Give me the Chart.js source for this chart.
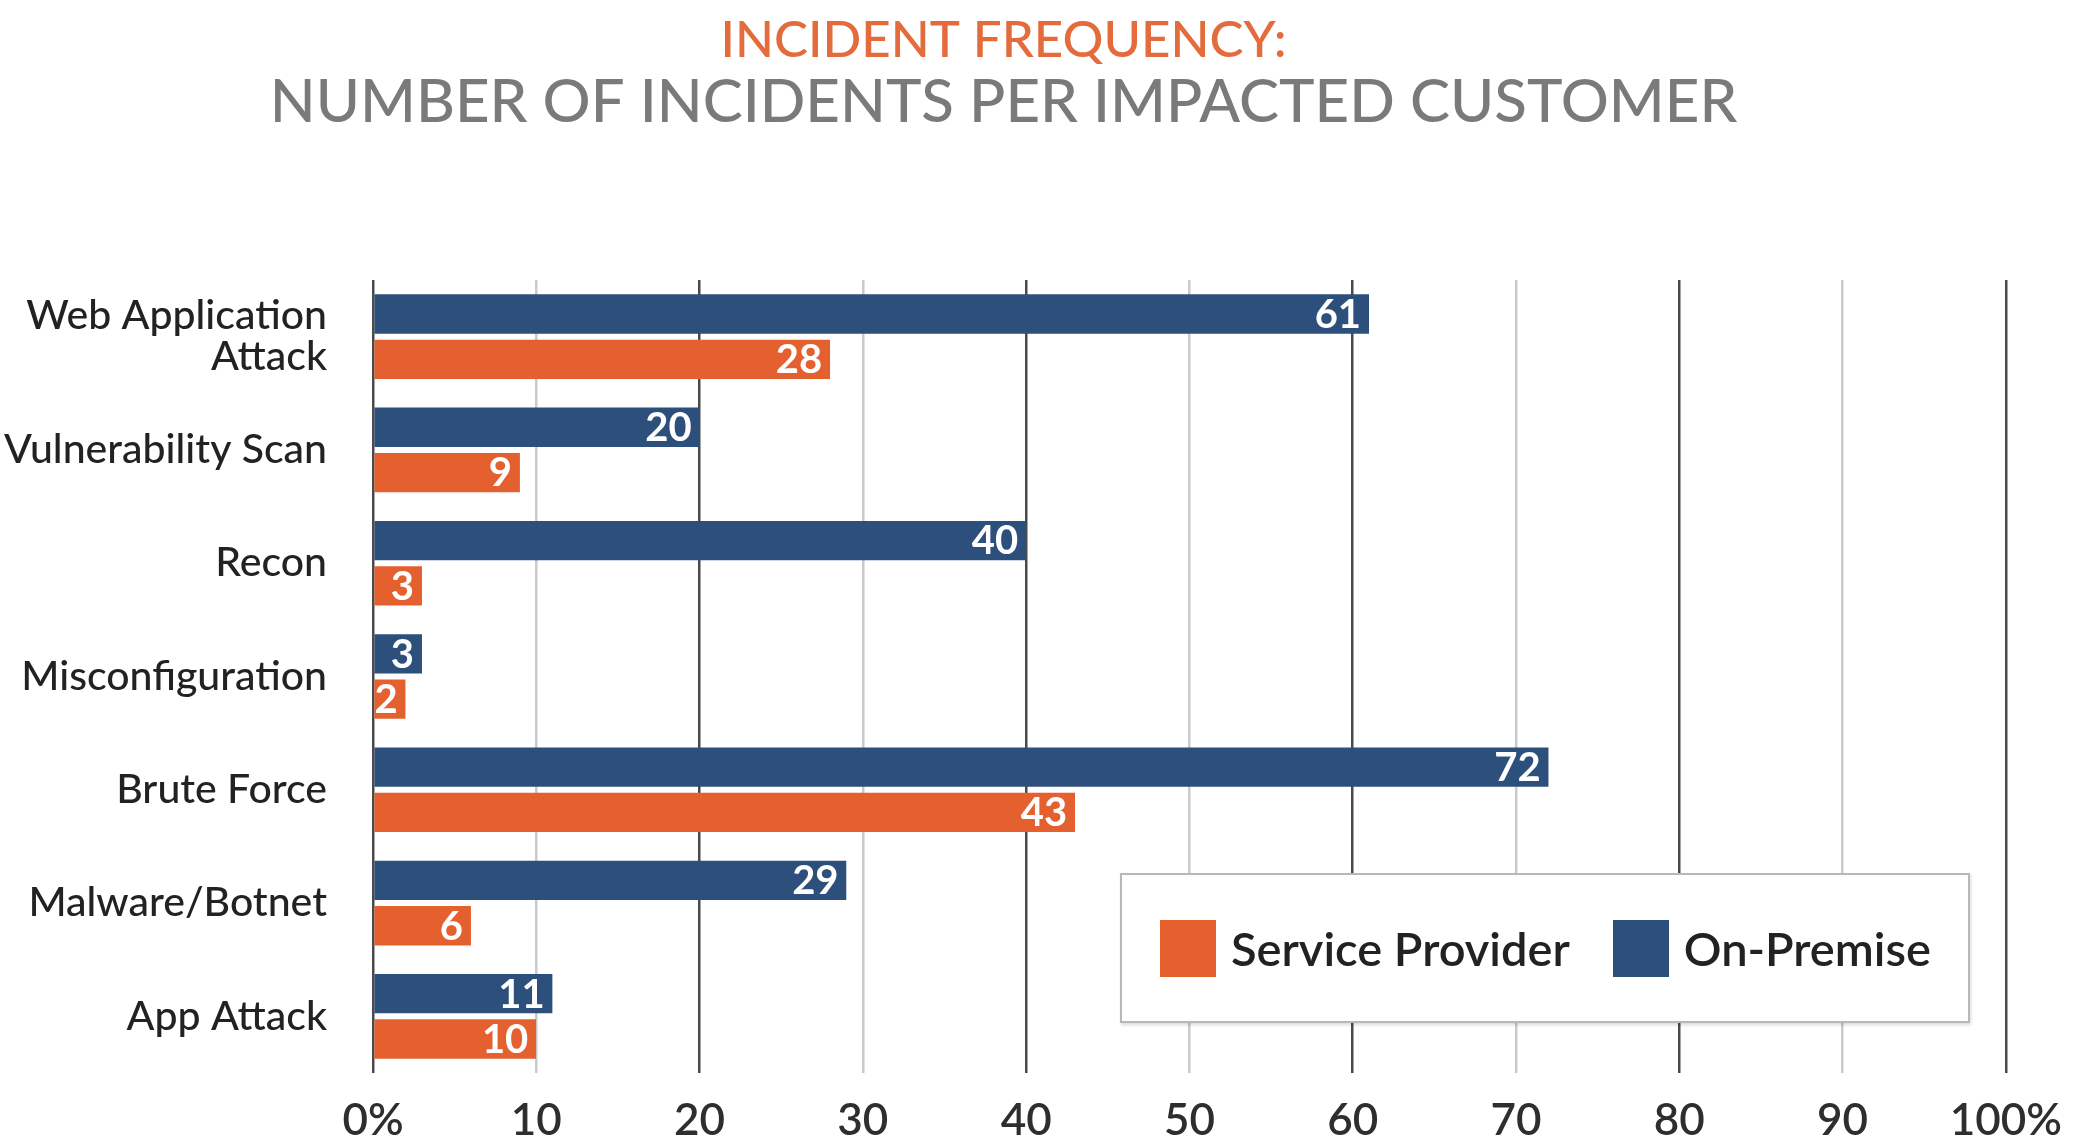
<!DOCTYPE html>
<html lang="en">
  <head>
    <meta charset="UTF-8" />
    <meta name="viewport" content="width=device-width, initial-scale=1.0" />
    <title>Incident Frequency</title>
    <style>
      body { margin: 0; background: #fff; }
      .wrap { position: relative; width: 2083px; height: 1142px; }
      .legend {
        position: absolute; left: 1120px; top: 873px; width: 846px; height: 146px;
        background: #fff; border: 2px solid #b8b8b8; box-shadow: 1px 2px 3px rgba(0,0,0,0.15);
        display: flex; align-items: center; font-family: Lato, sans-serif;
        font-size: 47px; font-weight: 600; color: #222;
      }
      .legend .item { display: flex; align-items: center; }
      .legend .swatch { width: 56px; height: 57px; margin-right: 15px; }
    </style>
  </head>
  <body>
    <div class="wrap">
      <canvas id="myChart"></canvas>
      <div class="legend" id="legend"></div>
    </div>
    <script src="https://cdn.jsdelivr.net/npm/chart.js"></script>
    <script>
      const categories = [
        ['Web Application', 'Attack'],
        'Vulnerability Scan',
        'Recon',
        'Misconfiguration',
        'Brute Force',
        'Malware/Botnet',
        'App Attack',
      ];
      const onPremise = [61, 20, 40, 3, 72, 29, 11];
      const serviceProvider = [28, 9, 3, 2, 43, 6, 10];
      const tickLabels = ['0%', '10', '20', '30', '40', '50', '60', '70', '80', '90', '100%'];

      const navy = '#2c4f7c';
      const orange = '#e4612f';

      // white value text at the end of each bar
      const barValues = {
        id: 'barValues',
        afterDatasetsDraw(chart) {
          const ctx = chart.ctx;
          ctx.save();
          ctx.font = 'bold 40px Lato';
          ctx.fillStyle = '#fff';
          ctx.textAlign = 'right';
          ctx.textBaseline = 'middle';
          chart.data.datasets.forEach((ds, i) => {
            chart.getDatasetMeta(i).data.forEach((bar, j) => {
              ctx.fillText(ds.data[j], bar.x - 8, bar.y + 1);
            });
          });
          ctx.restore();
        },
      };

      const barStyle = {
        borderWidth: { top: 3, bottom: 3, left: 0, right: 0 },
        borderColor: 'rgba(0,0,0,0)',
        categoryPercentage: 0.8,
        barPercentage: 1,
      };

      const data = {
        labels: categories,
        datasets: [
          { label: 'On-Premise', data: onPremise, backgroundColor: navy, ...barStyle },
          { label: 'Service Provider', data: serviceProvider, backgroundColor: orange, ...barStyle },
        ],
      };

      const config = {
        type: 'bar',
        data: data,
        options: {
          indexAxis: 'y',
          animation: false,
          responsive: true,
          maintainAspectRatio: false,
          layout: { padding: { top: 0, right: 76, bottom: 0, left: 0 } },
          plugins: {
            legend: { display: false },
            tooltip: { enabled: false },
            title: {
              display: true,
              text: 'INCIDENT FREQUENCY:',
              color: '#e36b3c',
              font: { family: 'Lato', size: 51, weight: 500, lineHeight: 1 },
              padding: { top: 15, bottom: 0 },
            },
            subtitle: {
              display: true,
              text: 'NUMBER OF INCIDENTS PER IMPACTED CUSTOMER',
              color: '#7a7a7a',
              font: { family: 'Lato', size: 60, weight: 500, lineHeight: 1 },
              padding: { top: 7, bottom: 147 },
            },
          },
          scales: {
            x: {
              min: 0,
              max: 100,
              border: { display: false },
              grid: {
                drawTicks: false,
                color: (c) => (c.index % 2 === 0 ? '#4a4a4a' : '#c9c9cf'),
                lineWidth: 2.5,
              },
              ticks: {
                stepSize: 10,
                padding: 21,
                color: '#2e2e2e',
                font: { family: 'Lato', size: 44, weight: 600 },
                callback: (v, i) => tickLabels[i],
              },
              afterFit: (scale) => { scale.height = 69; },
            },
            y: {
              border: { display: false },
              grid: { display: false, drawTicks: false },
              ticks: {
                padding: 46,
                color: '#222',
                font: { family: 'Lato', size: 41, weight: 500, lineHeight: 1.0 },
              },
              afterFit: (scale) => {
                scale.width = 373;
                // labels sit inside their category bands, no extra room needed
                scale.paddingTop = 0;
                scale.paddingBottom = 0;
              },
            },
          },
        },
        plugins: [barValues],
      };

      const myChart = new Chart(document.getElementById('myChart'), config);

      // legend lists Service Provider first, as in the printed key
      const legendEl = document.getElementById('legend');
      data.datasets.slice().reverse().forEach((ds, i) => {
        const item = document.createElement('div');
        item.className = 'item';
        item.style.marginLeft = i === 0 ? '38px' : '43px';
        item.innerHTML = '<span class="swatch" style="background:' + ds.backgroundColor + '"></span><span>' + ds.label + '</span>';
        legendEl.appendChild(item);
      });
    </script>
  </body>
</html>
